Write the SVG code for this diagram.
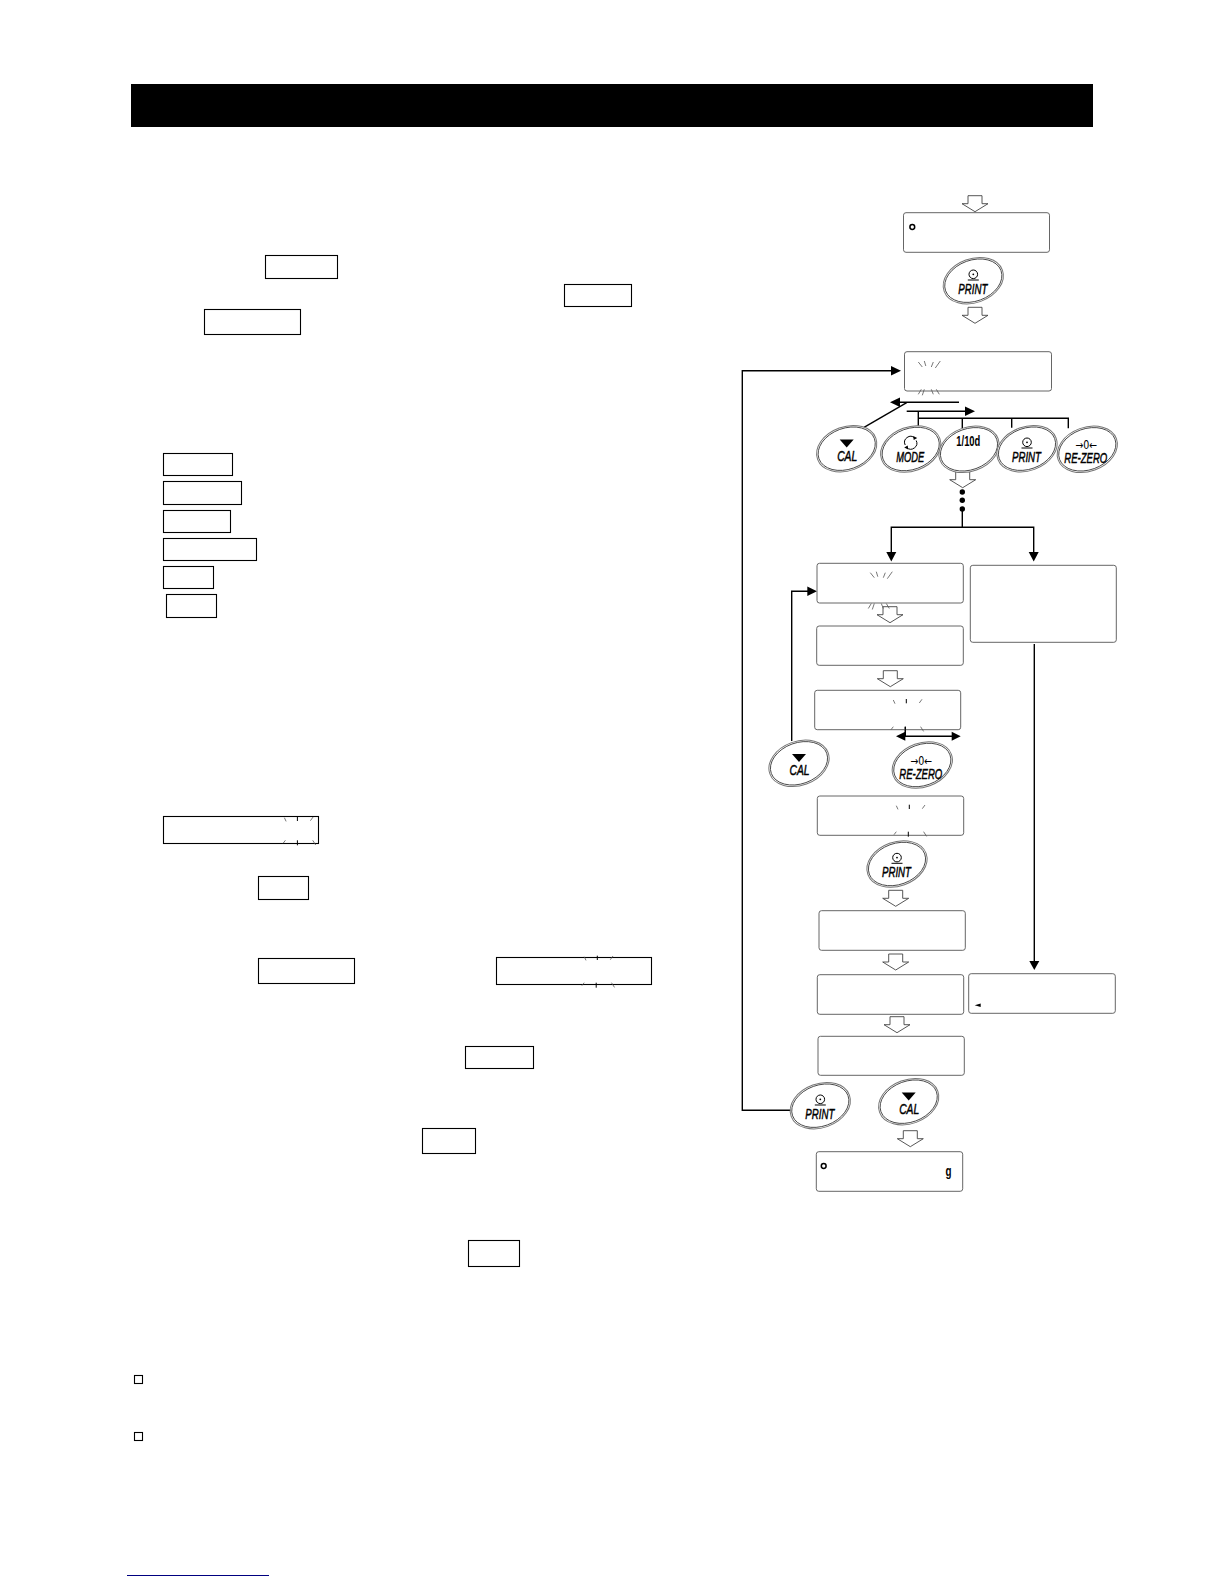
<svg xmlns="http://www.w3.org/2000/svg" xmlns:xlink="http://www.w3.org/1999/xlink" width="1224" height="1584" viewBox="0 0 1224 1584">
<style>
.bx{fill:#fff;stroke:#000;stroke-width:1.1}
.lcd{fill:none;stroke:#666;stroke-width:1}
.ln{fill:none;stroke:#000;stroke-width:1.400}
.oa{fill:#fff;stroke:#444;stroke-width:.9}
.ah{fill:#000;stroke:none}
.s{fill:none;stroke:#555;stroke-width:.8}
.sd{fill:none;stroke:#000;stroke-width:1}
.bo{fill:#fff;stroke:#777;stroke-width:1}
.bi{fill:none;stroke:#333;stroke-width:.8}
.t{font-family:"Liberation Sans",Arial,sans-serif;font-size:15px;font-weight:400;font-style:italic;fill:#000;stroke:#000;stroke-width:.5;text-anchor:middle}
.u{font-family:"Liberation Sans",Arial,sans-serif;font-size:14px;font-weight:700;fill:#000;text-anchor:middle}
.ic{fill:none;stroke:#000;stroke-width:1}
</style>
<defs>
<polygon id="open" class="oa" points="-7,-16 7,-16 7,-8 13,-8 0,0 -13,-8 -7,-8"/>
<g id="sa"><path class="s" d="M0,0 4,5M6,-1 7.500,4M13,5 15,0M17,6 22,-1"/></g>
<g id="sab"><path class="s" d="M0,5 3,0M4,6 6,0M15,5 13,0M21,5 18,0"/></g>
<g id="st"><path class="s" d="M-13,1-11.300,4.700M15.700,.3 13,4"/><path class="sd" d="M0,0V4.300"/></g>
<g id="sb"><path class="s" d="M-12,0-14.300,3M15.300,0 18.300,4.700"/><path class="sd" d="M0,0V5"/></g>
<g id="btn"><ellipse class="bo" rx="31" ry="22" transform="rotate(-20)"/><ellipse class="bi" rx="29.500" ry="20.500" transform="rotate(-20)"/></g>
<g id="iprint"><circle class="ic" cy="-6.400" r="4.300"/><circle cy="-6.400" r=".9" fill="#000"/><path class="ic" d="M-5.500,-.7H5.500"/></g>
<polygon id="itri" points="-7,-9.300 7,-9.300 0,-1.300" fill="#000"/>
<g id="imode"><path class="ic" d="M-5.500,-4A6,6 0 0 1 4,-11M5.500,-8.500A6,6 0 0 1 -4,-1.500"/><path d="M2.500,-13 6.500,-11 3,-9ZM-2.500,.5-6.500,-1.500-3,-3.500Z" fill="#000"/></g>
</defs>
<rect width="1224" height="1584" fill="#fff"/>
<rect id="header" x="131" y="84" width="962" height="43" fill="#000"/>
<g id="left-boxes">
<rect id="k1" class="bx" x="265.500" y="255.500" width="72" height="23"/>
<rect id="k2" class="bx" x="564.500" y="284.500" width="67" height="22"/>
<rect id="k3" class="bx" x="204.500" y="309.500" width="96" height="25"/>
<rect id="k4" class="bx" x="163.500" y="453.500" width="69" height="22"/>
<rect id="k5" class="bx" x="163.500" y="481.500" width="78" height="23"/>
<rect id="k6" class="bx" x="163.500" y="510.500" width="67" height="22"/>
<rect id="k7" class="bx" x="163.500" y="538.500" width="93" height="22"/>
<rect id="k8" class="bx" x="163.500" y="566.500" width="50" height="22"/>
<rect id="k9" class="bx" x="166.500" y="594.500" width="50" height="23"/>
<g id="d1"><rect class="bx" x="163.500" y="816.500" width="155" height="27"/><use xlink:href="#st" x="297.400" y="816.700"/><use xlink:href="#sb" x="297.400" y="840.300"/></g>
<rect id="k10" class="bx" x="258.500" y="876.500" width="50" height="23"/>
<rect id="k11" class="bx" x="258.500" y="958.500" width="96" height="25"/>
<g id="d2"><rect class="bx" x="496.500" y="957.500" width="155" height="27"/><use xlink:href="#st" x="597.300" y="955.700"/><use xlink:href="#sb" x="596.200" y="982.700"/></g>
<rect id="k12" class="bx" x="465.500" y="1046.500" width="68" height="22"/>
<rect id="k13" class="bx" x="422.500" y="1128.500" width="53" height="25"/>
<rect id="k14" class="bx" x="468.500" y="1240.500" width="51" height="26"/>
<rect id="b1" class="bx" x="134.500" y="1375.500" width="8" height="8"/>
<rect id="b2" class="bx" x="134.500" y="1432.500" width="8" height="8"/>
</g>
<line id="rule" x1="127" y1="1575.500" x2="269" y2="1575.500" stroke="#000080" stroke-width="1.200"/>
<g id="connectors">
<use xlink:href="#open" x="975" y="211.700"/>
<use xlink:href="#open" x="975" y="323.300"/>
<use xlink:href="#open" x="962.700" y="487.700"/>
<use xlink:href="#open" x="890" y="622.700"/>
<use xlink:href="#open" x="890.300" y="686.700"/>
<use xlink:href="#open" x="895.700" y="906.300"/>
<use xlink:href="#open" x="895.700" y="970"/>
<use xlink:href="#open" x="897" y="1032.700"/>
<use xlink:href="#open" x="910.300" y="1146.700"/>
<path class="ln" d="M790.700,1110.300H742.300V370.700H892"/><polygon class="ah" points="901,370.700 891,366 891,375.400"/>
<path class="ln" d="M959,402.300H898"/><polygon class="ah" points="890,402.300 900,397.600 900,407"/>
<path class="ln" d="M864,427.300 906.700,402.700"/>
<path class="ln" d="M906.700,411.300H967"/><polygon class="ah" points="975,411.300 965,406.600 965,416"/>
<path class="ln" d="M918.300,411.300V427M918.300,418.300H1068.300V428.300M962.300,418.300V428M1011.700,418.300V427.700"/>
<circle cx="962.300" cy="492" r="2.700"/><circle cx="962.300" cy="500.300" r="2.700"/><circle cx="962.300" cy="509" r="2.700"/>
<path class="ln" d="M962.300,509V527.300M891.300,553V527.300H1033.700V553"/>
<polygon class="ah" points="891.300,561.500 886.300,552 896.300,552"/><polygon class="ah" points="1033.700,561.500 1028.700,552 1038.700,552"/>
<path class="ln" d="M791.700,741V591.300H808"/><polygon class="ah" points="817,591.300 807.300,586.600 807.300,596"/>
<path class="ln" d="M905.300,726.700V736.300M904,736.300H953"/><polygon class="ah" points="896,736.300 905.300,731.800 905.300,740.800"/><polygon class="ah" points="960.700,736.300 951.700,731.800 951.700,740.800"/>
<path class="ln" d="M1034.300,644V962"/><polygon class="ah" points="1034.300,970 1029.300,961 1039.300,961"/>
</g>
<g id="lcd1"><rect class="lcd" x="903.500" y="212.700" width="146" height="39.600" rx="2.500"/><circle cx="912.300" cy="227" r="2.400" fill="none" stroke="#000" stroke-width="1.500"/></g>
<g id="lcd2"><rect class="lcd" x="904.500" y="351.700" width="147" height="39.300" rx="2.500"/><use xlink:href="#sa" x="918.300" y="362"/><use xlink:href="#sab" x="918.300" y="389.300"/></g>
<g id="lcd3"><rect class="lcd" x="817" y="563.300" width="146.300" height="39.700" rx="2.500"/><use xlink:href="#sa" x="870.300" y="572.700"/><use xlink:href="#sab" x="868.300" y="603.500"/></g>
<g id="lcd4"><rect class="lcd" x="816.700" y="626" width="146.600" height="39.300" rx="2.500"/></g>
<g id="lcd5"><rect class="lcd" x="814.700" y="690.300" width="146" height="39.400" rx="2.500"/><use xlink:href="#st" x="906.300" y="699"/><use xlink:href="#sb" x="905.300" y="726.700"/></g>
<g id="lcd6"><rect class="lcd" x="817.300" y="796" width="146.400" height="39.300" rx="2.500"/><use xlink:href="#st" x="909.300" y="804.700"/><use xlink:href="#sb" x="908.300" y="831.700"/></g>
<g id="lcd7"><rect class="lcd" x="819" y="910.700" width="146.300" height="39.600" rx="2.500"/></g>
<g id="lcd8"><rect class="lcd" x="817.300" y="974.700" width="146.400" height="39.600" rx="2.500"/></g>
<g id="lcd9"><rect class="lcd" x="818" y="1036.300" width="146.300" height="39" rx="2.500"/></g>
<g id="lcd10"><rect class="lcd" x="816.300" y="1151.700" width="146.400" height="39.600" rx="2.500"/><circle cx="823.700" cy="1166" r="2.400" fill="none" stroke="#000" stroke-width="1.500"/><text class="u" x="948.500" y="1176" textLength="6" lengthAdjust="spacingAndGlyphs" style="font-size:15px">g</text></g>
<g id="lcd-r1"><rect class="lcd" x="970.300" y="565.300" width="146" height="77" rx="2.500"/></g>
<g id="lcd-r2"><rect class="lcd" x="968.700" y="973.700" width="146.600" height="39.600" rx="2.500"/><polygon points="974.700,1005.300 980.700,1003.500 980.700,1007" fill="#000"/></g>
<g id="btn-print1" transform="translate(973.300,280.700)"><use xlink:href="#btn"/><use xlink:href="#iprint"/><text class="t" x="-.5" y="13.300" textLength="29" lengthAdjust="spacingAndGlyphs">PRINT</text></g>
<g id="btn-cal1" transform="translate(846.700,448.700)"><use xlink:href="#btn"/><use xlink:href="#itri"/><text class="t" x=".5" y="11.800" textLength="20" lengthAdjust="spacingAndGlyphs">CAL</text></g>
<g id="btn-mode" transform="translate(910.700,449)"><use xlink:href="#btn"/><use xlink:href="#imode"/><text class="t" x="-.5" y="12.500" textLength="28" lengthAdjust="spacingAndGlyphs">MODE</text></g>
<g id="btn-tenth" transform="translate(969,449.300)"><use xlink:href="#btn"/><text class="u" x="-.7" y="-3.300" textLength="24" lengthAdjust="spacingAndGlyphs">1/10d</text></g>
<g id="btn-print2" transform="translate(1027,448.700)"><use xlink:href="#btn"/><use xlink:href="#iprint"/><text class="t" x="-.5" y="13.300" textLength="29" lengthAdjust="spacingAndGlyphs">PRINT</text></g>
<g id="btn-rezero1" transform="translate(1087.300,449.300)"><use xlink:href="#btn"/><text class="u" x="-1" y="-.5" textLength="22" lengthAdjust="spacingAndGlyphs" style="font-family:'DejaVu Sans',sans-serif;font-size:12px;font-weight:400">→0←</text><text class="t" x="-1.500" y="13.500" textLength="43" lengthAdjust="spacingAndGlyphs">RE-ZERO</text></g>
<g id="btn-cal2" transform="translate(799,763.300)"><use xlink:href="#btn"/><use xlink:href="#itri"/><text class="t" x=".5" y="11.800" textLength="20" lengthAdjust="spacingAndGlyphs">CAL</text></g>
<g id="btn-rezero2" transform="translate(922.300,765)"><use xlink:href="#btn"/><text class="u" x="-1" y="-.5" textLength="22" lengthAdjust="spacingAndGlyphs" style="font-family:'DejaVu Sans',sans-serif;font-size:12px;font-weight:400">→0←</text><text class="t" x="-1.500" y="13.500" textLength="43" lengthAdjust="spacingAndGlyphs">RE-ZERO</text></g>
<g id="btn-print3" transform="translate(897,864)"><use xlink:href="#btn"/><use xlink:href="#iprint"/><text class="t" x="-.5" y="13.300" textLength="29" lengthAdjust="spacingAndGlyphs">PRINT</text></g>
<g id="btn-print4" transform="translate(820.300,1105.700)"><use xlink:href="#btn"/><use xlink:href="#iprint"/><text class="t" x="-.5" y="13.300" textLength="29" lengthAdjust="spacingAndGlyphs">PRINT</text></g>
<g id="btn-cal3" transform="translate(908.700,1101.700)"><use xlink:href="#btn"/><use xlink:href="#itri"/><text class="t" x=".5" y="11.800" textLength="20" lengthAdjust="spacingAndGlyphs">CAL</text></g>
</svg>
